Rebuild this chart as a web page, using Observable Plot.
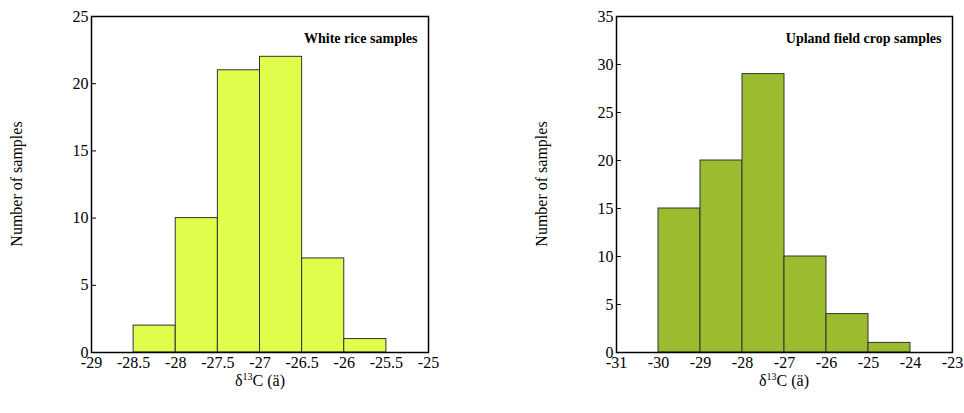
<!DOCTYPE html>
<html><head><meta charset="utf-8">
<script src="https://cdn.jsdelivr.net/npm/d3@7"></script>
<script src="https://cdn.jsdelivr.net/npm/@observablehq/plot@0.6"></script>
<style>
body{margin:0;background:#fff;}
#wrap{display:flex;width:964px;height:413px;}
#wrap svg, #wrap svg text{font-family:'Liberation Serif', 'Times New Roman', Times, serif !important;}
</style></head><body><div id="wrap"></div>
<script>
const riceBinStart = [-28.5, -28, -27.5, -27, -26.5, -26];
const riceBinEnd   = [-28, -27.5, -27, -26.5, -26, -25.5];
const riceCounts   = [2, 10, 21, 22, 7, 1];
const riceTicksX   = [-29, -28.5, -28, -27.5, -27, -26.5, -26, -25.5, -25];
const riceTicksY   = [0, 5, 10, 15, 20, 25];

const uplandBinStart = [-30, -29, -28, -27, -26, -25];
const uplandBinEnd   = [-29, -28, -27, -26, -25, -24];
const uplandCounts   = [15, 20, 29, 10, 4, 1];
const uplandTicksX   = [-31, -30, -29, -28, -27, -26, -25, -24, -23];
const uplandTicksY   = [0, 5, 10, 15, 20, 25, 30, 35];

const titles = ["White rice samples", "Upland field crop samples"];
const yLabel = "Number of samples";
const FONT = "'Liberation Serif', 'Times New Roman', serif";

function panel(opts){
  const data = opts.start.map((s,i)=>({x1:s, x2:opts.end[i], y:opts.counts[i]}));
  const p = Plot.plot({
    width: 482, height: 413,
    marginLeft: opts.ml, marginRight: opts.mr, marginTop: 16, marginBottom: 61,
    style: {fontFamily: FONT, fontSize: "16px", color: "#000", background: "#fff"},
    x: {domain: opts.xdom, ticks: opts.ticksX},
    y: {domain: opts.ydom, ticks: opts.ticksY},
    marks: [
      Plot.rectY(data, {x1:"x1", x2:"x2", y:"y", fill: opts.fill, stroke: "#333", strokeWidth: 1}),
      Plot.frame({stroke:"#000", strokeWidth: 1.5}),
      Plot.axisX({ticks: opts.ticksX, tickSize: 0, tickPadding: 4, label: null, fontSize: 16, tickFormat: d=>String(d)}),
      Plot.axisY({ticks: opts.ticksY, tickSize: -5, tickPadding: 8, label: null, fontSize: 16}),
      Plot.text([opts.title], {frameAnchor: "top-right", dx: -11, dy: 17, text: d=>d, fontWeight: "bold", fontSize: 14, fill:"#000"})
    ]
  });
  const svg = d3.select(p);
  svg.append("text").attr("transform", `translate(${opts.ylx},184) rotate(-90)`)
    .attr("text-anchor","middle").attr("font-size",16).attr("fill","#000").text(yLabel);
  const t = svg.append("text").attr("x", opts.xlx).attr("y", 386).attr("text-anchor","middle").attr("font-size",16).attr("fill","#000");
  t.append("tspan").text("δ");
  t.append("tspan").attr("dy",-6).attr("font-size",10).text("13");
  t.append("tspan").attr("dy",6).text("C (ä)");
  svg.selectAll("text").attr("font-family", FONT);
  return p;
}

const wrap = document.getElementById("wrap");
wrap.append(panel({start:riceBinStart,end:riceBinEnd,counts:riceCounts,ticksX:riceTicksX,ticksY:riceTicksY,
  xdom:[-29,-25], ydom:[0,25], ml:91, mr:54, fill:"#e1fc4a", title:titles[0], ylx:22, xlx:260}));
wrap.append(panel({start:uplandBinStart,end:uplandBinEnd,counts:uplandCounts,ticksX:uplandTicksX,ticksY:uplandTicksY,
  xdom:[-31,-23], ydom:[0,35], ml:134, mr:12, fill:"#9bbc2e", title:titles[1], ylx:65, xlx:302}));
</script></body></html>
